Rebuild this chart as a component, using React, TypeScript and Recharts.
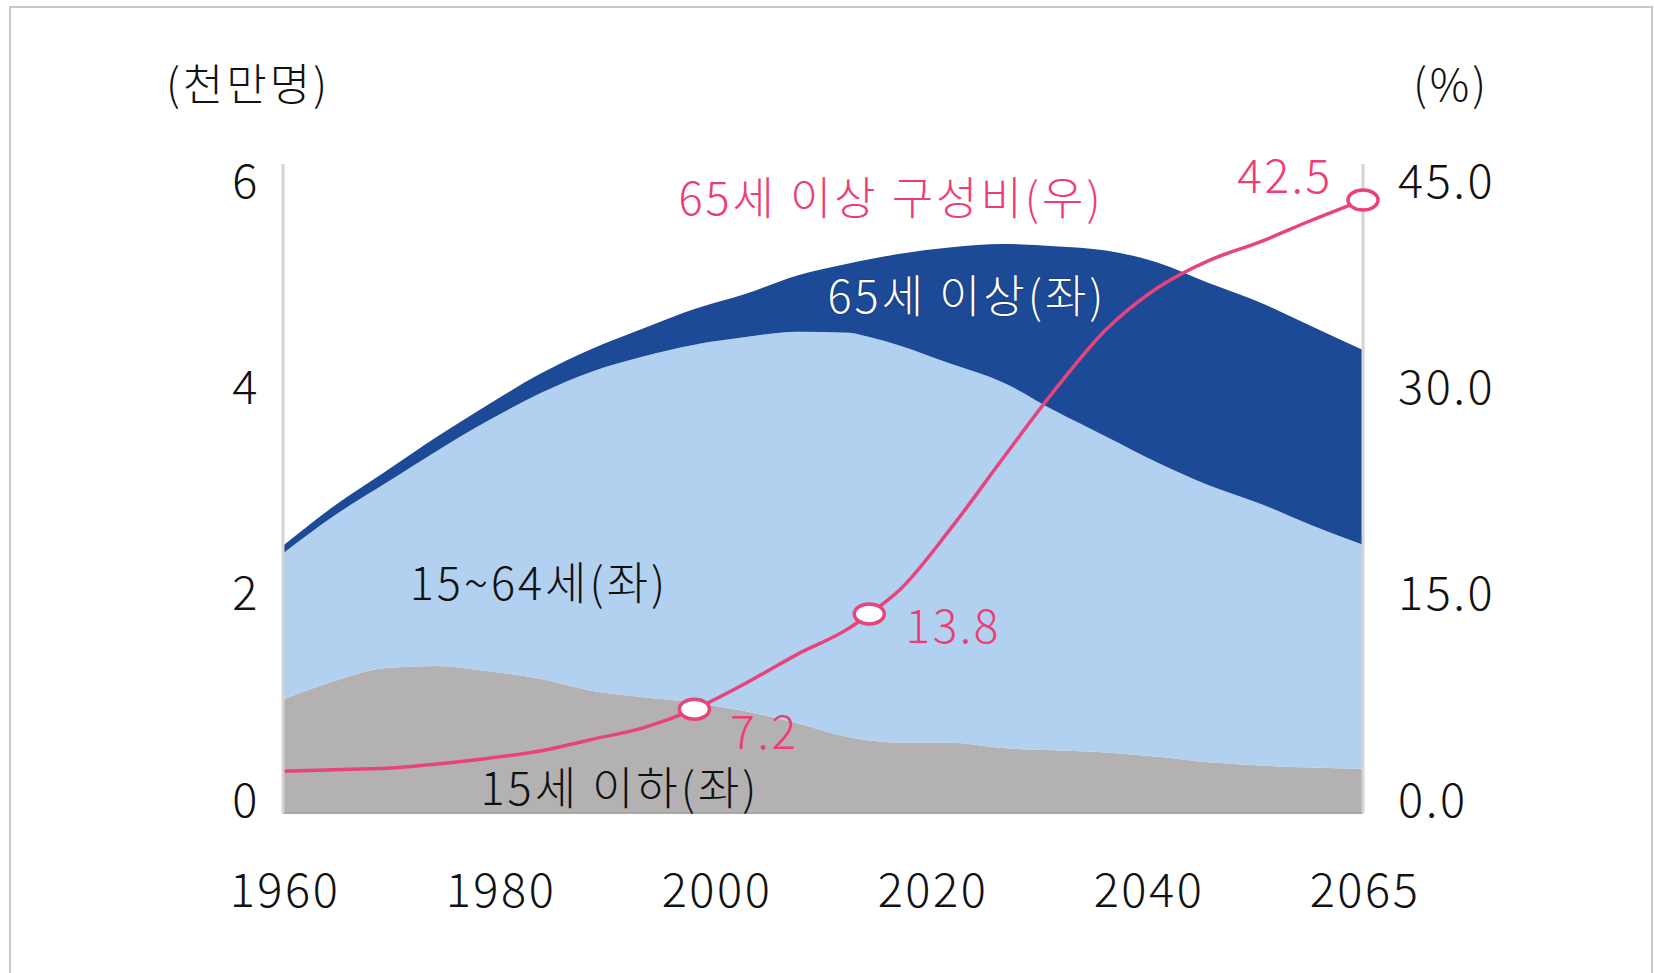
import React from 'react';
import { ComposedChart, Area, Line, XAxis, YAxis, LabelList } from 'recharts';

// years on a linear scale (10M people on the left, % on the right)
const years = [1960, 1965, 1970, 1975, 1980, 1985, 1990, 1995, 2000, 2005, 2010, 2015, 2017, 2020, 2025, 2030, 2035, 2040, 2045, 2050, 2055, 2060, 2065];
const young = [1.05, 1.22, 1.34, 1.36, 1.31, 1.24, 1.13, 1.07, 1.02, 0.94, 0.83, 0.7, 0.67, 0.65, 0.65, 0.6, 0.58, 0.56, 0.52, 0.47, 0.44, 0.42, 0.41];
const working = [1.35, 1.53, 1.71, 1.99, 2.32, 2.64, 2.95, 3.15, 3.31, 3.46, 3.62, 3.74, 3.73, 3.67, 3.5, 3.38, 3.14, 2.92, 2.72, 2.56, 2.42, 2.24, 2.07];
const elderly = [0.07, 0.09, 0.11, 0.13, 0.15, 0.18, 0.21, 0.26, 0.33, 0.4, 0.52, 0.64, 0.72, 0.85, 1.08, 1.28, 1.52, 1.72, 1.85, 1.87, 1.86, 1.84, 1.8];
const elderlyPct = [2.9, 3.0, 3.1, 3.4, 3.8, 4.3, 5.1, 5.9, 7.2, 9.0, 11.0, 12.8, 13.8, 15.5, 19.8, 24.6, 29.3, 33.5, 36.4, 38.3, 39.6, 41.1, 42.5];

const markYears = [2000, 2017, 2065];
// the original spaces its year labels evenly, so they sit every 21 years on the axis
const xTicks = [1960, 1981, 2002, 2023, 2044, 2065];
const xLabels = ['1960', '1980', '2000', '2020', '2040', '2065'];
const leftTicks = [0, 2, 4, 6];
const rightTicks = [0, 15, 30, 45];

const data = years.map((year, i) => ({
  year,
  young: young[i],
  working: working[i],
  elderly: elderly[i],
  pct: elderlyPct[i],
}));

const FONT = "'Noto Sans CJK KR', 'Noto Sans', sans-serif";
const PINK = '#e8437a';
const PINK_TEXT = '#ee3d76';
const PLOT_TOP = 164;
const PLOT_BOTTOM = 813;

// tick labels sit on a slightly tighter grid than the data in the original
const tickY = (y: number) => {
  const frac = (PLOT_BOTTOM - y) / (PLOT_BOTTOM - PLOT_TOP);
  return y - 17 + 30 * frac;
};

const numText = {
  fontSize: 47,
  fontWeight: 300,
  fill: '#111',
  fontFamily: FONT,
  letterSpacing: 2.5,
  dominantBaseline: 'central' as const,
};

const LeftTick = (props: any) => {
  const { x, y, payload } = props;
  return (
    <text x={x} y={tickY(y)} textAnchor="end" {...numText}>
      {payload.value}
    </text>
  );
};

const RightTick = (props: any) => {
  const { x, y, payload } = props;
  return (
    <text x={x} y={tickY(y)} textAnchor="start" {...numText}>
      {Number(payload.value).toFixed(1)}
    </text>
  );
};

const BottomTick = (props: any) => {
  const { x, y, payload } = props;
  const i = xTicks.indexOf(payload.value);
  return (
    <text x={x + 2} y={y + 73} textAnchor="middle" {...numText}>
      {xLabels[i]}
    </text>
  );
};

const labelOffsets: Record<number, { dx: number; dy: number }> = {
  2000: { dx: 70, dy: 20 },
  2017: { dx: 84, dy: 9 },
  2065: { dx: -78, dy: -27 },
};

const PctLabel = (props: any) => {
  const { x, y, value, index } = props;
  const off = labelOffsets[years[index]];
  if (!off) return null;
  return (
    <text x={x + off.dx} y={y + off.dy} textAnchor="middle" {...numText} fontSize={46} fill={PINK_TEXT}>
      {Number(value).toFixed(1)}
    </text>
  );
};

const Marker = (props: any) => {
  const { cx, cy, index } = props;
  if (!markYears.includes(years[index])) return <g key={`d${index}`} />;
  return <ellipse key={`d${index}`} cx={cx} cy={cy} rx={15} ry={10} fill="#fff" stroke={PINK} strokeWidth={3.5} />;
};

const note = (text: string, x: number, y: number, color: string, size = 45, extra: React.CSSProperties = {}) => (
  <div
    style={{
      position: 'absolute',
      left: x,
      top: y,
      transform: 'translate(-50%, -50%)',
      fontFamily: FONT,
      fontSize: size,
      fontWeight: 300,
      lineHeight: 1,
      letterSpacing: 3,
      color,
      whiteSpace: 'nowrap',
      ...extra,
    }}
  >
    {text}
  </div>
);

export default function App() {
  return (
    <div style={{ position: 'absolute', left: 0, top: 0, width: 1654, height: 973, overflow: 'hidden', background: '#fff' }}>
      <div style={{ position: 'absolute', left: 9, top: 6, width: 1640, height: 1000, border: '2px solid #c9c9c9' }} />
      <div style={{ position: 'absolute', left: 0, top: 0 }}>
        <ComposedChart width={1654} height={973} data={data} margin={{ top: PLOT_TOP, right: 151, left: 183, bottom: 60 }}>
          <XAxis
            dataKey="year"
            type="number"
            domain={[1960, 2065]}
            ticks={xTicks}
            height={100}
            tickLine={false}
            tickSize={0}
            tickMargin={0}
            axisLine={{ stroke: '#a8a8a8', strokeWidth: 2 }}
            tick={<BottomTick />}
          />
          <YAxis
            yAxisId="left"
            domain={[0, 6]}
            ticks={leftTicks}
            width={100}
            tickLine={false}
            tickSize={0}
            tickMargin={23}
            axisLine={{ stroke: '#d4d4d4', strokeWidth: 3 }}
            tick={<LeftTick />}
          />
          <YAxis
            yAxisId="right"
            orientation="right"
            domain={[0, 45]}
            ticks={rightTicks}
            width={140}
            tickLine={false}
            tickSize={0}
            tickMargin={35}
            axisLine={{ stroke: '#d4d4d4', strokeWidth: 3 }}
            tick={<RightTick />}
          />
          <Area yAxisId="left" type="monotone" dataKey="young" stackId="pop" fill="#b3b1b1" fillOpacity={1} stroke="none" isAnimationActive={false} />
          <Area yAxisId="left" type="monotone" dataKey="working" stackId="pop" fill="#b2d0ef" fillOpacity={1} stroke="none" isAnimationActive={false} />
          <Area yAxisId="left" type="monotone" dataKey="elderly" stackId="pop" fill="#1d4a97" fillOpacity={1} stroke="none" isAnimationActive={false} />
          <Line
            yAxisId="right"
            type="monotone"
            dataKey="pct"
            stroke={PINK}
            strokeWidth={3.5}
            dot={Marker}
            activeDot={false}
            isAnimationActive={false}
          >
            <LabelList dataKey="pct" content={PctLabel} />
          </Line>
        </ComposedChart>
      </div>
      {note('(천만명)', 248, 82, '#111', 44)}
      {note('(%)', 1451, 82, '#111', 44)}
      {note('65세 이상 구성비(우)', 891, 195, PINK_TEXT, 45)}
      {note('65세 이상(좌)', 967, 293, '#fff', 45, { textShadow: '0 0 2px rgba(0,0,0,0.45)' })}
      {note('15~64세(좌)', 539, 580, '#111', 45)}
      {note('15세 이하(좌)', 620, 785, '#111', 45)}
    </div>
  );
}
